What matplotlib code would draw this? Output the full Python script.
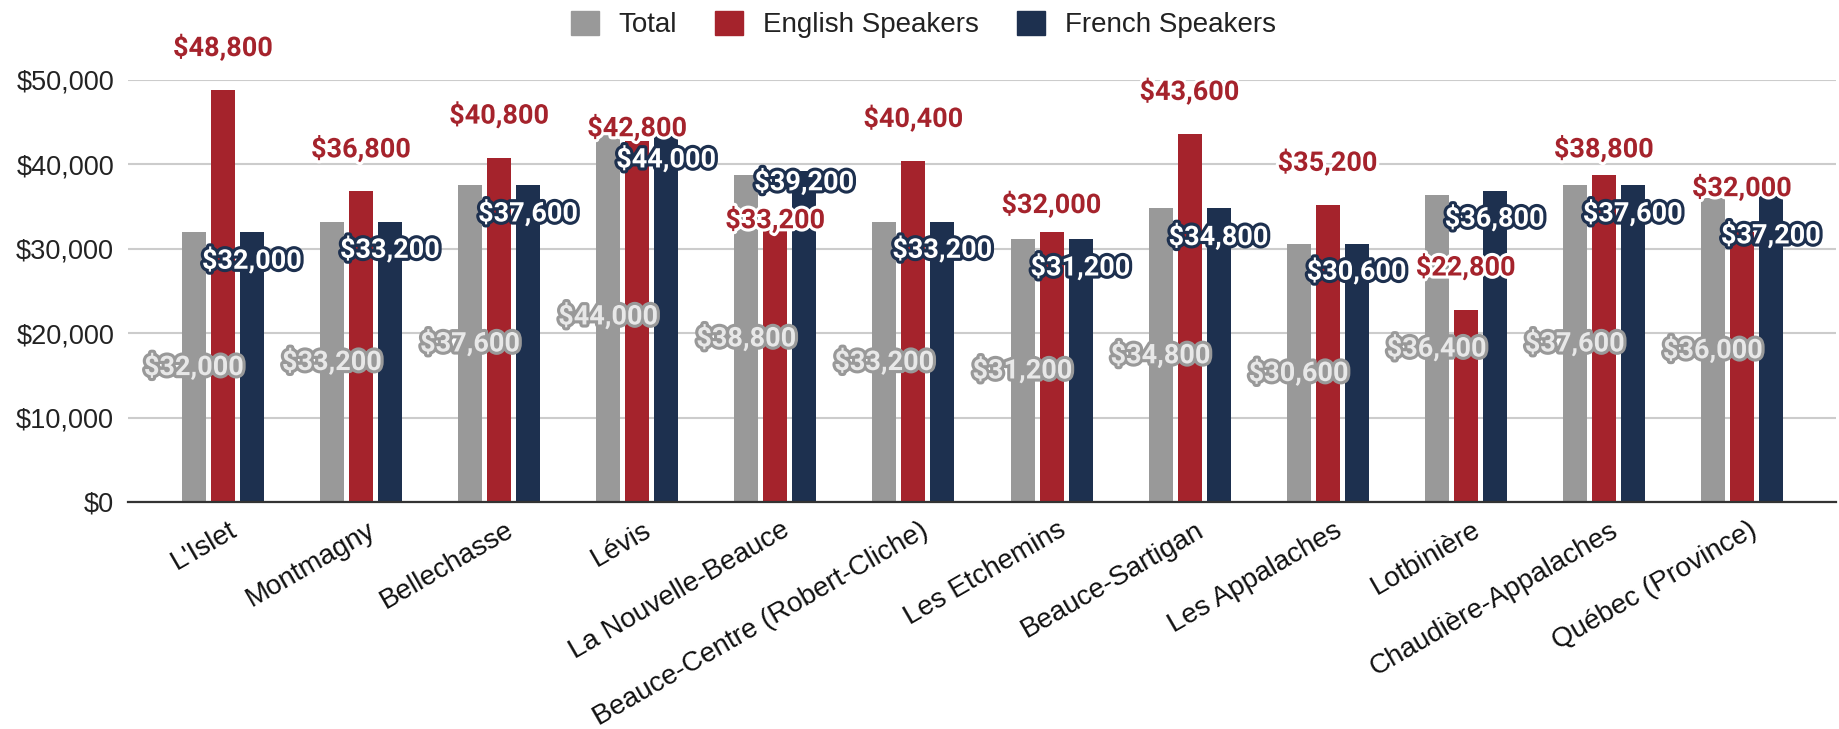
import numpy as np
import matplotlib
matplotlib.use("Agg")
import matplotlib.pyplot as plt
import matplotlib.patheffects as pe
import matplotlib.transforms as mtransforms
from matplotlib.patches import Patch

# data (median income by region)
regions = ["L'Islet", "Montmagny", "Bellechasse", "Lévis", "La Nouvelle-Beauce",
           "Beauce-Centre (Robert-Cliche)", "Les Etchemins", "Beauce-Sartigan",
           "Les Appalaches", "Lotbinière", "Chaudière-Appalaches", "Québec (Province)"]
total = [32000, 33200, 37600, 44000, 38800, 33200, 31200, 34800, 30600, 36400, 37600, 36000]
english = [48800, 36800, 40800, 42800, 33200, 40400, 32000, 43600, 35200, 22800, 38800, 32000]
french = [32000, 33200, 37600, 44000, 39200, 33200, 31200, 34800, 30600, 36800, 37600, 37200]

# label nudges in dollars (the original moves some labels to dodge each other)
en_shift = [5000, 5000, 5000, 1500, 200, 5000, 3200, 5000, 5000, 5000, 3000, 5200]
fr_shift = [-3400, -3300, -3400, -3400, -1300, -3300, -3400, -3400, -3300, -3200, -3400, -5600]

c_total = "#999999"
c_en = "#a5232c"
c_fr = "#1d304f"

plt.rcParams["font.family"] = ["Liberation Sans", "DejaVu Sans"]

fig = plt.figure(figsize=(18.39, 7.29), dpi=100)
ax = fig.add_axes([0.0696, 0.3114, 0.9287, 0.5789])

x = np.arange(len(regions))
w = 0.174
step = 0.21

ax.bar(x - step, total, w, color=c_total, zorder=2)
ax.bar(x, english, w, color=c_en, zorder=2)
ax.bar(x + step, french, w, color=c_fr, zorder=2)

ax.set_xlim(-0.688, 11.68)
ax.set_ylim(0, 50000)
ax.set_yticks(np.arange(0, 50001, 10000))
ax.yaxis.set_major_formatter(lambda v, p: f"${v:,.0f}")
ax.grid(axis="y", color="#cccccc", linewidth=1.5, zorder=0)
ax.set_axisbelow(True)
for s in ["top", "right", "left"]:
    ax.spines[s].set_visible(False)
ax.spines["bottom"].set_color("#333333")
ax.spines["bottom"].set_linewidth(1.6)
ax.spines["bottom"].set_zorder(3)

ax.tick_params(axis="y", length=0, pad=10, labelsize=19.5, labelcolor="#222222")
ax.tick_params(axis="x", length=0, pad=11)
ax.set_xticks(x)
ax.set_xticklabels(regions, rotation=30, ha="right", fontsize=20, color="#111111")
shift = mtransforms.ScaledTranslation(19 / 100, 0, fig.dpi_scale_trans)
for lab in ax.get_xticklabels():
    lab.set_transform(lab.get_transform() + shift)

lab_font = dict(family="Roboto", weight="bold", fontsize=19.5, ha="center", va="center",
                clip_on=False, zorder=5)
for i in range(len(regions)):
    ax.text(x[i] - step, total[i] / 2, f"${total[i]:,}", color="#e8e8e8",
            path_effects=[pe.withStroke(linewidth=4.5, foreground=c_total)], **lab_font)
    ax.text(x[i] + step, french[i] + fr_shift[i], f"${french[i]:,}", color="white",
            path_effects=[pe.withStroke(linewidth=4.5, foreground=c_fr)], **lab_font)
    ax.text(x[i], english[i] + en_shift[i], f"${english[i]:,}", color=c_en,
            path_effects=[pe.withStroke(linewidth=4.5, foreground="white")], **lab_font)

handles = [Patch(color=c_total, label="Total"),
           Patch(color=c_en, label="English Speakers"),
           Patch(color=c_fr, label="French Speakers")]
fig.legend(handles=handles, loc="center", bbox_to_anchor=(0.502, 1 - 24.5 / 729), ncol=3,
           frameon=False, fontsize=20, handlelength=1.0, handleheight=1.0,
           handletextpad=0.7, columnspacing=1.4, labelcolor="#222222")

fig.savefig("out.png", dpi=100)
